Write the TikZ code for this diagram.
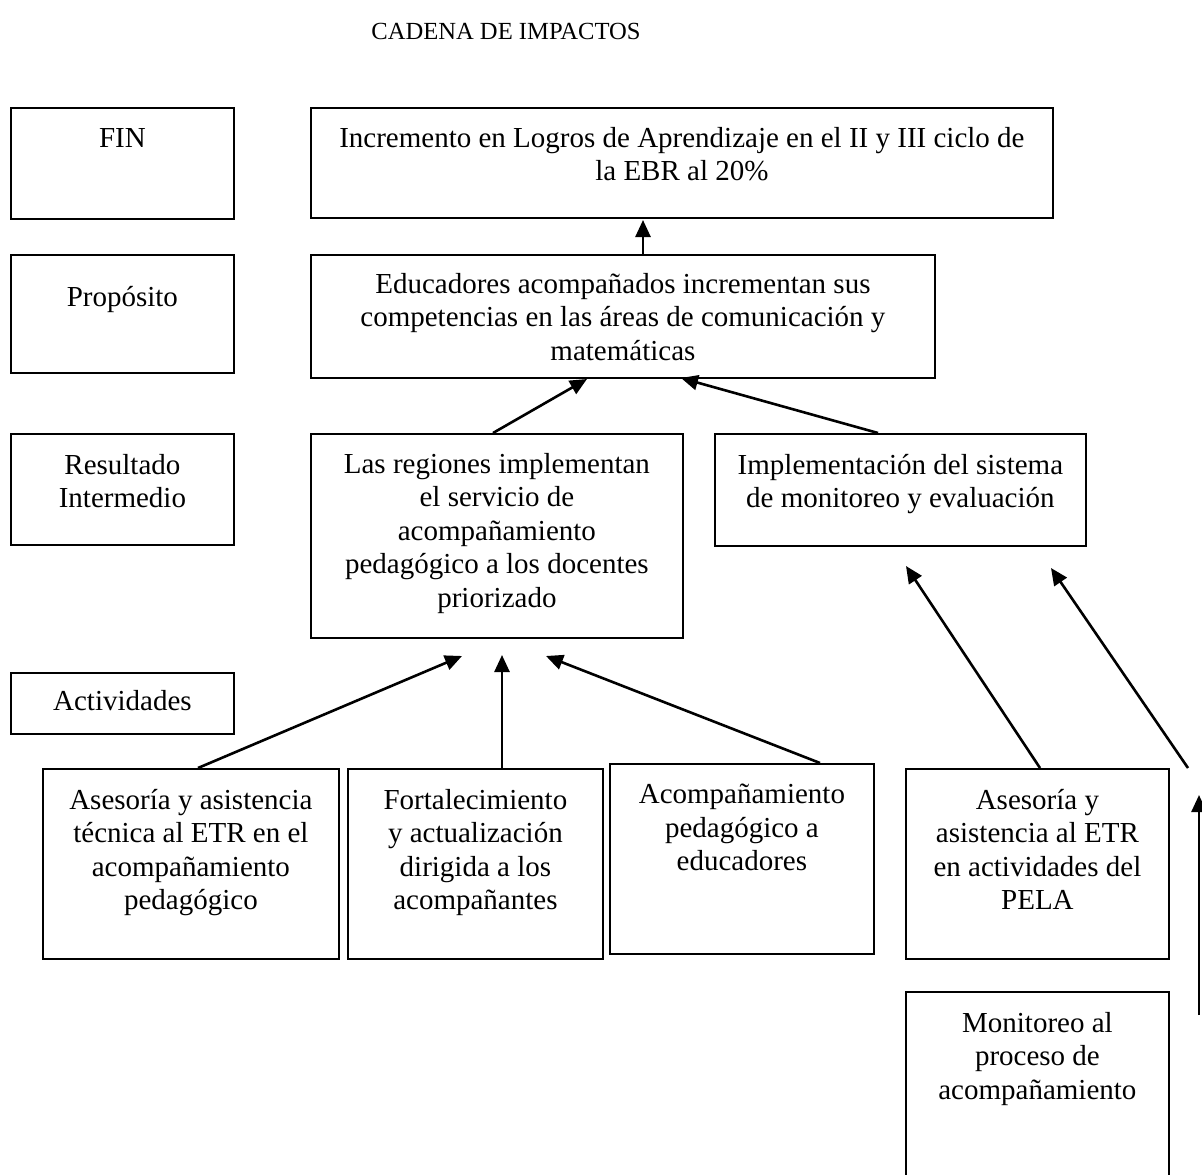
\documentclass[tikz,border=0pt]{standalone}
\usepackage{fontspec}
\setmainfont{Liberation Serif}
\usetikzlibrary{arrows.meta}

\begin{document}
\begin{tikzpicture}[x=1pt, y=-1pt,
  box/.style={draw, line width=1.8pt, inner sep=0pt, anchor=north west},
  txt/.style={anchor=north, align=center, inner sep=0pt,
    font=\fontsize{29}{33.5}\selectfont},
  link/.style={line width=2.6pt, -{Triangle[length=17pt, width=15pt]}}]

\path[use as bounding box, clip] (0,0) rectangle (1202,1175);
\fill[white] (0,0) rectangle (1202,1175);

\node[anchor=center, inner sep=0pt, font=\fontsize{24.6}{29}\selectfont] (title) at (506,31) {CADENA DE IMPACTOS};

% level labels on the left
\node[box, minimum width=223pt, minimum height=111pt] (fin) at (10,107) {};
\node[txt] (fint) at ([yshift=-21pt]fin.north) {FIN};
\node[box, minimum width=223pt, minimum height=118pt] (prop) at (10,254) {};
\node[txt] (propt) at ([yshift=-32pt]prop.north) {Propósito};
\node[box, minimum width=223pt, minimum height=111pt] (resl) at (10,433) {};
\node[txt] (reslt) at ([yshift=-21pt]resl.north) {Resultado\\Intermedio};
\node[box, minimum width=223pt, minimum height=61pt] (act) at (10,672) {};
\node[txt] (actt) at ([yshift=-18pt]act.north) {Actividades};

% chain boxes
\node[box, minimum width=742pt, minimum height=110pt] (meta) at (310,107) {};
\node[txt] (metat) at ([yshift=-20pt]meta.north) {Incremento en Logros de Aprendizaje en el II y III ciclo de\\la EBR al 20\%};
\node[box, minimum width=624pt, minimum height=123pt] (edu) at (310,254) {};
\node[txt] (edut) at ([yshift=-19pt]edu.north) {Educadores acompañados incrementan sus\\competencias en las áreas de comunicación y\\matemáticas};
\node[box, minimum width=372pt, minimum height=204pt] (reg) at (310,433) {};
\node[txt] (regt) at ([yshift=-20pt]reg.north) {Las regiones implementan\\el servicio de\\acompañamiento\\pedagógico a los docentes\\priorizado};
\node[box, minimum width=371pt, minimum height=112pt] (imp) at (714,433) {};
\node[txt] (impt) at ([yshift=-21pt]imp.north) {Implementación del sistema\\de monitoreo y evaluación};

% activities
\node[box, minimum width=296pt, minimum height=190pt] (a1) at (42,768) {};
\node[txt] (a1t) at ([yshift=-21pt]a1.north) {Asesoría y asistencia\\técnica al ETR en el\\acompañamiento\\pedagógico};
\node[box, minimum width=255pt, minimum height=190pt] (a2) at (347,768) {};
\node[txt] (a2t) at ([yshift=-21pt]a2.north) {Fortalecimiento\\y actualización\\dirigida a los\\acompañantes};
\node[box, minimum width=264pt, minimum height=190pt] (a3) at (609,763) {};
\node[txt] (a3t) at ([yshift=-21pt]a3.north) {Acompañamiento\\pedagógico a\\educadores};
\node[box, minimum width=263pt, minimum height=190pt] (a4) at (905,768) {};
\node[txt] (a4t) at ([yshift=-21pt]a4.north) {Asesoría y\\asistencia al ETR\\en actividades del\\PELA};
\node[box, minimum width=263pt, minimum height=200pt] (a5) at (905,991) {};
\node[txt] (a5t) at ([yshift=-21pt]a5.north) {Monitoreo al\\proceso de\\acompañamiento};

% connector ends
\coordinate (t1) at (643,220);
\coordinate (s1) at (643,254);
\coordinate (s2) at (493,433);
\coordinate (t2) at (587,379);
\coordinate (s3) at (878,433);
\coordinate (t3) at (681,378);
\coordinate (s4) at (198,768);
\coordinate (t4) at (462,656);
\coordinate (s5) at (502,768);
\coordinate (t5) at (502,655);
\coordinate (s6) at (820,763);
\coordinate (t6) at (546,656);
\coordinate (s7) at (1040,768);
\coordinate (t7) at (906,566);
\coordinate (s8) at (1188,768);
\coordinate (t8) at (1051,568);
\coordinate (s9) at (1199,1015);
\coordinate (t9) at (1199,795);

\draw[link] (s1) -- (t1);
\draw[link] (s2) -- (t2);
\draw[link] (s3) -- (t3);
\draw[link] (s4) -- (t4);
\draw[link] (s5) -- (t5);
\draw[link] (s6) -- (t6);
\draw[link] (s7) -- (t7);
\draw[link] (s8) -- (t8);
\draw[link] (s9) -- (t9);
\end{tikzpicture}
\end{document}
